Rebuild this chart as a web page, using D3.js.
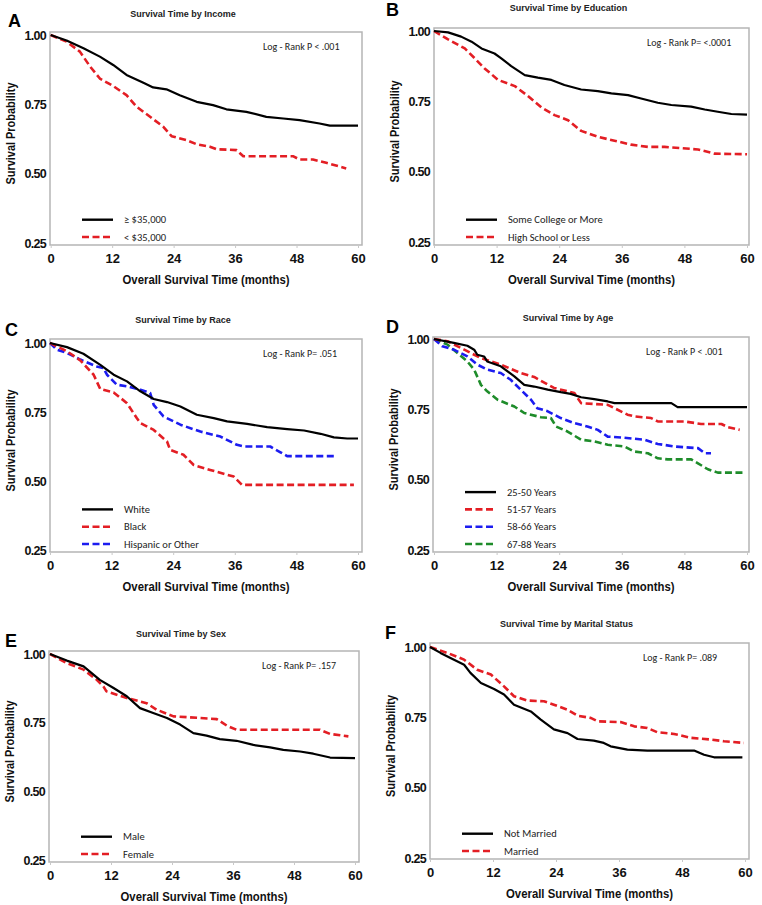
<!DOCTYPE html>
<html><head><meta charset="utf-8">
<script src="https://cdn.jsdelivr.net/npm/d3@7"></script>
<style>
html,body{margin:0;padding:0;background:#fff;}
svg{display:block;}
</style></head>
<body>
<svg id="chart" width="762" height="905"></svg>
<script>
// ---------- DATA (month, survival probability) ----------
const xTicks = [0, 12, 24, 36, 48, 60];
const yTicks = [0.25, 0.50, 0.75, 1.00];

const incomeHigh = [[0,1],[3.1,0.98],[6.4,0.952],[9.6,0.922],[12.2,0.892],[14.8,0.856],[18.1,0.828],[20,0.811],[22.6,0.804],[25.2,0.783],[28.5,0.759],[31.7,0.747],[34.3,0.732],[38.2,0.723],[42.1,0.705],[45.4,0.699],[48.6,0.693],[52.5,0.681],[54.5,0.673],[60,0.673]];
const incomeLow = [[0,1],[3.1,0.976],[5.7,0.94],[7.7,0.886],[9.6,0.843],[12.2,0.816],[14.8,0.783],[16.8,0.741],[19.4,0.705],[22,0.669],[23.6,0.635],[26.5,0.621],[28.5,0.606],[31.1,0.597],[32.4,0.588],[36.3,0.585],[37.6,0.563],[47.3,0.563],[48.6,0.551],[51.2,0.551],[53.8,0.539],[57.7,0.519]];

const eduCollege = [[0,1],[2.7,0.995],[5.2,0.98],[7.2,0.962],[9.1,0.938],[11.6,0.92],[12.9,0.903],[14.8,0.875],[17.4,0.843],[19.9,0.834],[22.5,0.826],[25,0.808],[28.2,0.792],[31.4,0.786],[34,0.778],[37.2,0.772],[39.7,0.76],[42.9,0.745],[45.5,0.737],[49.3,0.731],[51.9,0.721],[54.4,0.713],[57,0.705],[60,0.703]];
const eduHighSchool = [[0,1],[2.7,0.97],[5.9,0.938],[7.8,0.903],[9.7,0.867],[12.3,0.826],[15.5,0.804],[18,0.769],[20.6,0.728],[23.1,0.701],[25.7,0.683],[28.2,0.645],[31.4,0.624],[34.6,0.61],[37.8,0.596],[41,0.588],[44.2,0.588],[50.6,0.579],[53.8,0.564],[60,0.562]];

const raceWhite = [[0,1],[3.3,0.985],[6.5,0.961],[9.8,0.921],[12.4,0.885],[15,0.861],[17.6,0.825],[20.2,0.797],[22.8,0.786],[25.4,0.77],[28.6,0.74],[31.9,0.728],[34.5,0.716],[38.4,0.707],[42.3,0.695],[46.2,0.688],[49.5,0.683],[52.7,0.671],[55.3,0.658],[57.9,0.654],[60,0.654]];
const raceBlack = [[0,1],[3.3,0.97],[5.9,0.937],[8.5,0.885],[9.8,0.833],[12.4,0.821],[15,0.782],[16.9,0.728],[17.6,0.71],[20.2,0.685],[22.8,0.643],[23.4,0.613],[26,0.595],[28,0.558],[31.2,0.54],[35.8,0.516],[37.4,0.486],[59.2,0.486]];
const raceOther = [[0,1],[1.3,0.976],[3.3,0.964],[5.9,0.94],[9.1,0.915],[10.4,0.909],[11.1,0.885],[13,0.849],[15,0.843],[17.6,0.831],[19.5,0.819],[20.2,0.776],[22.1,0.734],[25.4,0.704],[29.3,0.679],[33.2,0.661],[36.4,0.631],[37.7,0.625],[42.9,0.625],[44.9,0.604],[46.2,0.59],[55.3,0.59]];

const age2550 = [[0,1],[3.8,0.986],[6.4,0.976],[7.7,0.962],[8.3,0.944],[9.6,0.938],[10.2,0.92],[12.8,0.903],[15.4,0.867],[17.3,0.837],[19.2,0.831],[21.8,0.82],[24.3,0.811],[26.2,0.805],[28.2,0.793],[30.7,0.786],[33.3,0.778],[34.6,0.772],[45.5,0.772],[46.7,0.758],[60,0.758]];
const age5157 = [[0,1],[2.6,0.992],[5.8,0.962],[9,0.932],[12.8,0.909],[16.6,0.879],[19.2,0.865],[23,0.826],[26.9,0.808],[28.2,0.772],[33.3,0.766],[34.6,0.754],[37.1,0.731],[38.4,0.725],[41.6,0.719],[42.9,0.707],[48,0.707],[51.2,0.698],[55.1,0.698],[56.3,0.687],[58.6,0.677]];
const age5866 = [[0,1],[1.6,0.974],[3.8,0.962],[6.4,0.938],[8.3,0.909],[10.2,0.891],[12.8,0.879],[14.7,0.855],[16.6,0.82],[18.6,0.784],[19.8,0.754],[21.8,0.743],[24.3,0.719],[26.9,0.701],[29.4,0.689],[31.4,0.677],[33.3,0.653],[35.9,0.65],[40.3,0.642],[42.9,0.627],[46.1,0.618],[50.6,0.612],[51.9,0.594],[53.1,0.594]];
const age6788 = [[0,1],[2.6,0.98],[4.5,0.95],[6.4,0.92],[7.7,0.891],[9,0.837],[10.2,0.814],[12.2,0.784],[15.4,0.76],[17.3,0.737],[20.5,0.722],[22.4,0.719],[23.4,0.689],[25.6,0.671],[28.2,0.642],[30.7,0.636],[33.3,0.624],[36.5,0.618],[38.4,0.6],[41,0.594],[42.9,0.576],[44.8,0.572],[49.3,0.572],[50.6,0.558],[52.5,0.537],[54.4,0.525],[59.2,0.525]];

const sexMale = [[0,1],[3.3,0.976],[6.6,0.955],[9.8,0.906],[12.5,0.876],[15.1,0.846],[17.7,0.803],[20.3,0.785],[23,0.767],[25.6,0.743],[28.2,0.712],[30.8,0.703],[33.4,0.69],[36.7,0.684],[40,0.669],[43.3,0.66],[45.9,0.651],[49.2,0.645],[51.8,0.637],[55.1,0.623],[60,0.621]];
const sexFemale = [[0,1],[3.3,0.967],[6.6,0.943],[9.2,0.906],[10.5,0.882],[11.1,0.864],[15.1,0.84],[19,0.821],[21,0.797],[24.3,0.773],[29.5,0.767],[32.8,0.763],[34.8,0.739],[36.7,0.724],[53.1,0.724],[55.1,0.709],[58.7,0.7]];

const notMarried = [[0,1],[2,0.979],[3.9,0.961],[6.5,0.937],[7.7,0.908],[9.7,0.872],[12.2,0.851],[14.1,0.831],[16,0.795],[19.2,0.771],[21.1,0.742],[23.6,0.707],[26.2,0.694],[28.1,0.673],[31.2,0.667],[33.1,0.659],[34.4,0.647],[37.6,0.635],[41.4,0.632],[50.3,0.632],[52.2,0.617],[54.1,0.608],[59.5,0.608]];
const married = [[0,1],[3.3,0.979],[6.5,0.955],[9,0.919],[11.6,0.902],[14.1,0.86],[16,0.825],[18.5,0.81],[21.7,0.807],[23.6,0.795],[26.2,0.777],[28.1,0.756],[30.6,0.748],[31.9,0.736],[36.3,0.733],[38.9,0.718],[41.4,0.712],[43.3,0.697],[46.5,0.691],[49.7,0.677],[53.5,0.671],[56,0.665],[59.8,0.659]];

const titles = ['Survival Time by Income','Survival Time by Education','Survival Time by Race','Survival Time by Age','Survival Time by Sex','Survival Time by Marital Status'];
const letters = ['A','B','C','D','E','F'];
const logRanks = ['Log - Rank P < .001','Log - Rank P= <.0001','Log - Rank P= .051','Log - Rank P < .001','Log - Rank P= .157','Log - Rank P= .089'];

// ---------- STYLE ----------
const BLACK = '#000000', RED = '#e31e24', BLUE = '#1c1cf0', GREEN = '#1e8c2a';
const SOLID = null, DASH = '7,3.5';

const panels = [
  {frame:[50,32,362,245], x:[50.7,358], y:[35,243], titleY:13, letter:[8,27],
   series:[{n:'≥ $35,000',d:incomeHigh,c:BLACK,s:SOLID},{n:'< $35,000',d:incomeLow,c:RED,s:DASH}]},
  {frame:[434,28,749,245], x:[434,747], y:[31,242], titleY:7, letter:[386,16],
   series:[{n:'Some College or More',d:eduCollege,c:BLACK,s:SOLID},{n:'High School or Less',d:eduHighSchool,c:RED,s:DASH}]},
  {frame:[50,339,362,552], x:[50,358], y:[343,550], titleY:319, letter:[5,336],
   series:[{n:'White',d:raceWhite,c:BLACK,s:SOLID},{n:'Black',d:raceBlack,c:RED,s:DASH},{n:'Hispanic or Other',d:raceOther,c:BLUE,s:DASH}]},
  {frame:[433,337,749,552], x:[434,747], y:[339,550], titleY:317, letter:[386,333],
   series:[{n:'25-50 Years',d:age2550,c:BLACK,s:SOLID},{n:'51-57 Years',d:age5157,c:RED,s:DASH},{n:'58-66 Years',d:age5866,c:BLUE,s:DASH},{n:'67-88 Years',d:age6788,c:GREEN,s:DASH}]},
  {frame:[49,651,359,862], x:[50,355], y:[654,860], titleY:633, letter:[5,647],
   series:[{n:'Male',d:sexMale,c:BLACK,s:SOLID},{n:'Female',d:sexFemale,c:RED,s:DASH}]},
  {frame:[430,643,749,859], x:[430,745], y:[647,858], titleY:623, letter:[385,639],
   series:[{n:'Not Married',d:notMarried,c:BLACK,s:SOLID},{n:'Married',d:married,c:RED,s:DASH}]}
];

const svg = d3.select('#chart');
const AX = '"Liberation Sans", Arial, sans-serif';
const CAL = 'Carlito, Lato, "Open Sans", sans-serif';

panels.forEach((p, i) => {
  const [fl, ft, fr, fb] = p.frame;
  const g = svg.append('g');
  const x = d3.scaleLinear().domain([0, 60]).range(p.x);
  const y = d3.scaleLinear().domain([0.25, 1.0]).range([p.y[1], p.y[0]]);

  // title
  g.append('text').attr('x', (fl + fr) / 2 - 23).attr('y', p.titleY + 3.5)
    .attr('text-anchor', 'middle').attr('font-family', AX).attr('font-weight', 'bold')
    .attr('font-size', 9).attr('fill', '#222').text(titles[i]);
  // letter
  g.append('text').attr('x', p.letter[0]).attr('y', p.letter[1])
    .attr('font-family', AX).attr('font-weight', 'bold').attr('font-size', 18)
    .attr('fill', '#000').text(letters[i]);

  // frame
  g.append('rect').attr('x', fl).attr('y', ft).attr('width', fr - fl).attr('height', fb - ft)
    .attr('fill', 'none').attr('stroke', '#b5b5b5').attr('stroke-width', 1.5);

  // x axis
  const xa = g.append('g').attr('transform', `translate(0,${fb})`)
    .call(d3.axisBottom(x).tickValues(xTicks).tickSize(3).tickPadding(6).tickFormat(d3.format('d')));
  xa.select('.domain').remove();
  xa.selectAll('line').attr('stroke', '#c8c8c8');
  xa.selectAll('text').attr('font-family', AX).attr('font-weight', 'bold').attr('font-size', 13).attr('fill', '#111');

  // y axis
  const ya = g.append('g').attr('transform', `translate(${fl},0)`)
    .call(d3.axisLeft(y).tickValues(yTicks).tickSize(0).tickPadding(4).tickFormat(d3.format('.2f')));
  ya.select('.domain').remove();
  ya.selectAll('text').attr('font-family', AX).attr('font-weight', 'bold').attr('font-size', 12.5).attr('fill', '#111')
    .attr('letter-spacing', '-0.7');

  // axis titles
  g.append('text').attr('x', (fl + fr) / 2 + 0).attr('y', fb + 39).attr('text-anchor', 'middle')
    .attr('font-family', AX).attr('font-weight', 'bold').attr('font-size', 13.5)
    .attr('textLength', 167).attr('lengthAdjust', 'spacingAndGlyphs').attr('fill', '#111')
    .text('Overall  Survival  Time  (months)');
  g.append('text').attr('transform', `translate(${fl - 35},${(ft + fb) / 2 - 5}) rotate(-90)`)
    .attr('text-anchor', 'middle').attr('font-family', AX).attr('font-weight', 'bold').attr('font-size', 13.5)
    .attr('textLength', 102).attr('lengthAdjust', 'spacingAndGlyphs').attr('fill', '#111')
    .text('Survival Probability');

  // log-rank
  g.append('text').attr('x', fl + 213).attr('y', ft + 18).attr('font-family', CAL)
    .attr('font-size', 10).attr('fill', '#222').text(logRanks[i]);

  // curves
  const line = d3.line().x(d => x(d[0])).y(d => y(d[1])).curve(d3.curveLinear);
  p.series.slice().reverse().forEach(s => {
    g.append('path').datum(s.d).attr('d', line).attr('fill', 'none')
      .attr('stroke', s.c).attr('stroke-width', s.s ? 2.6 : 2.2)
      .attr('stroke-dasharray', s.s).attr('stroke-linejoin', 'round');
  });

  // legend
  const n = p.series.length;
  p.series.forEach((s, k) => {
    const ly = fb - 8 - (n - 1 - k) * 17.3;
    g.append('line').attr('x1', fl + 32).attr('x2', fl + 63).attr('y1', ly).attr('y2', ly)
      .attr('stroke', s.c).attr('stroke-width', s.s ? 2.6 : 2.4).attr('stroke-dasharray', s.s);
    g.append('text').attr('x', fl + 74).attr('y', ly + 3.5).attr('font-family', CAL)
      .attr('font-size', 10.5).attr('fill', '#222').text(s.n);
  });
});
</script>
</body></html>
